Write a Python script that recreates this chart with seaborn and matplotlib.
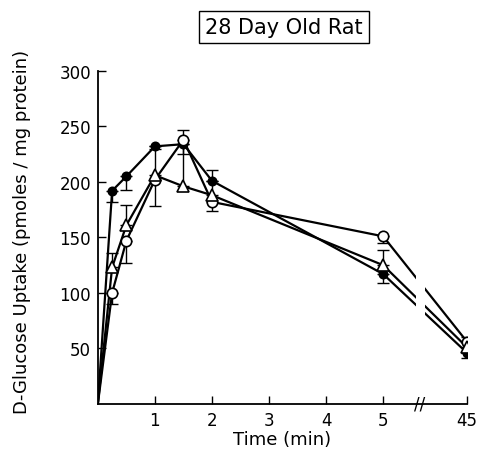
import numpy as np
import pandas as pd
import matplotlib
matplotlib.use("Agg")
import matplotlib.pyplot as plt
import seaborn as sns

# ---- data ----
times = [0, 0.25, 0.5, 1, 1.5, 2, 5, 45]
filled_vals = [0, 192, 205, 232, 234, 201, 117, 46]
filled_lo = [0, 10, 12, 0, 9, 0, 8, 5]
filled_hi = [0, 0, 0, 0, 0, 0, 0, 0]
open_vals = [0, 100, 147, 202, 238, 182, 151, 56]
open_lo = [0, 10, 20, 24, 0, 8, 6, 0]
open_hi = [0, 0, 0, 0, 9, 0, 0, 0]
tri_vals = [0, 123, 161, 206, 196, 188, 125, 51]
tri_lo = [0, 0, 0, 0, 0, 0, 0, 0]
tri_hi = [0, 13, 18, 24, 38, 23, 14, 9]

xtick_vals = [1, 2, 3, 4, 5, 45]
xtick_labels = ["1", "2", "3", "4", "5", "45"]
ytick_vals = [50, 100, 150, 200, 250, 300]

BREAK_POS = 6.47  # axis position where 45 min is drawn


def pos(t):
    return t if t <= 5 else BREAK_POS


sns.set_style("ticks")
plt.rcParams["font.family"] = ["DejaVu Sans"]
for k in ["text.color", "axes.labelcolor", "xtick.color", "ytick.color", "axes.edgecolor"]:
    plt.rcParams[k] = "black"

fig = plt.figure(figsize=(4.82, 4.52), dpi=100)
ax = fig.add_axes([0.203, 0.104, 0.766, 0.737])

series = [
    (filled_vals, filled_lo, filled_hi, "o", "black", 6),
    (open_vals, open_lo, open_hi, "o", "white", 7.5),
    (tri_vals, tri_lo, tri_hi, "^", "white", 8.5),
]

for vals, lo, hi, mk, fc, ms in series:
    df = pd.DataFrame({"x": [pos(t) for t in times], "y": vals})
    sns.lineplot(data=df, x="x", y="y", ax=ax, color="black", lw=1.6,
                 sort=False, zorder=2)
    ax.errorbar(df["x"][1:], df["y"][1:], yerr=[lo[1:], hi[1:]], fmt="none",
                ecolor="black", elinewidth=1.0, capsize=4, capthick=1.0, zorder=2)
    ax.plot(df["x"][1:], df["y"][1:], linestyle="none", marker=mk, ms=ms,
            mfc=fc, mec="black", mew=1.2, zorder=4)

# axis break between 5 and 45
ax.axvspan(5.58, 5.74, ymin=0.01, ymax=1, color="white", zorder=3, lw=0)
ax.text(5.64, 0, "//", ha="center", va="center", fontsize=12, zorder=5,
        transform=ax.transData, clip_on=False)

ax.set_xlim(0, BREAK_POS)
ax.set_ylim(0, 300)
ax.set_xticks([pos(t) for t in xtick_vals])
ax.set_xticklabels(xtick_labels)
ax.set_yticks(ytick_vals)
ax.set_yticklabels([str(v) for v in ytick_vals])
ax.tick_params(direction="in", length=6, width=1, labelsize=12, pad=5)
ax.set_xlabel("Time (min)", fontsize=13, labelpad=1)
ax.set_ylabel("D-Glucose Uptake (pmoles / mg protein)", fontsize=13)
ax.yaxis.set_label_coords(-0.18, 0.52)
sns.despine(ax=ax)
for s in ["left", "bottom"]:
    ax.spines[s].set_linewidth(1.3)
    ax.spines[s].set_color("black")

fig.text(0.589, 0.938, "28 Day Old Rat", ha="center", va="center", fontsize=15,
         bbox=dict(boxstyle="square,pad=0.3", fc="white", ec="black", lw=1))

fig.savefig("out.png", dpi=100)
